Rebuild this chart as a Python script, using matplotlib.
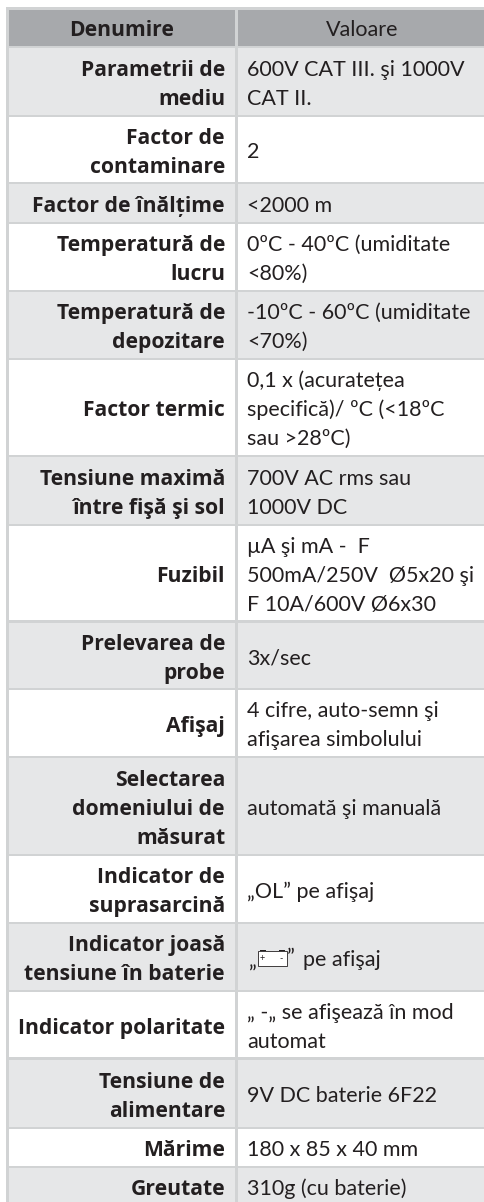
import matplotlib
matplotlib.use("Agg")
import matplotlib.pyplot as plt
from matplotlib.patches import Rectangle

headers = ["Denumire", "Valoare"]
labels = [
    ["Parametrii de", "mediu"], ["Factor de", "contaminare"], ["Factor de înălțime"],
    ["Temperatură de", "lucru"], ["Temperatură de", "depozitare"], ["Factor termic"],
    ["Tensiune maximă", "între fişă şi sol"], ["Fuzibil"], ["Prelevarea de", "probe"],
    ["Afişaj"], ["Selectarea", "domeniului de", "măsurat"], ["Indicator de", "suprasarcină"],
    ["Indicator joasă", "tensiune în baterie"], ["Indicator polaritate"],
    ["Tensiune de", "alimentare"], ["Mărime"], ["Greutate"],
]
values = [
    ["600V CAT III. şi 1000V", "CAT II."], ["2"], ["<2000 m"],
    ["0ºC - 40ºC (umiditate", "<80%)"], ["-10ºC - 60ºC (umiditate", "<70%)"],
    ["0,1 x (acuratețea", "specifică)/ ºC (<18ºC", "sau >28ºC)"],
    ["700V AC rms sau", "1000V DC"],
    ["µA şi mA -  F", "500mA/250V  Ø5x20 şi", "F 10A/600V Ø6x30"], ["3x/sec"],
    ["4 cifre, auto-semn şi", "afişarea simbolului"], ["automată şi manuală"],
    ["„OL” pe afişaj"], ["pe afişaj"], ["„ -„ se afişează în mod", "automat"],
    ["9V DC baterie 6F22"], ["180 x 85 x 40 mm"], ["310g (cu baterie)"],
]

# layout, in pixels of the 484x1202 canvas
W, H = 484, 1202
row_edges = [48, 117, 184, 224, 292, 360, 457, 526, 622.5, 690, 758, 856, 924, 992, 1059.5, 1129, 1168, 1207]
LINE = 29
GRID, HEAD, BAND, INK = "#D1D3D4", "#A7A9AC", "#E6E7E8", "#231F20"
FONT_R = ["Lato", "Noto Sans", "DejaVu Sans"]
FONT_B = ["Open Sans", "Noto Sans", "DejaVu Sans"]
FS, FSB = 15.5, 15.2

fig = plt.figure(figsize=(W / 100, H / 100), dpi=100, facecolor="white")
ax = fig.add_axes([0, 0, 1, 1])
ax.set_xlim(0, W)
ax.set_ylim(H, 0)
ax.axis("off")

def box(x0, y0, x1, y1, c, z=1):
    ax.add_patch(Rectangle((x0, y0), x1 - x0, y1 - y0, fc=c, ec="none", zorder=z))

box(6, 7, W, H, GRID, 0)
box(8.5, 9.5, 235, 46, HEAD)
box(237.5, 9.5, W, 46, HEAD)
ax.text(122, 36.5, headers[0], ha="center", va="baseline", fontsize=FSB, fontweight="bold", color=INK, family=FONT_B)
ax.text(362, 36.5, headers[1], ha="center", va="baseline", fontsize=FS, color=INK, family=FONT_R)

for i, (lab, val) in enumerate(zip(labels, values)):
    top, bot = row_edges[i], row_edges[i + 1] - 2.3
    c = BAND if i % 2 == 0 else "white"
    box(8.5, top, 235, bot, c)
    box(237.5, top, W, bot, c)
    mid = (top + bot) / 2 + 9
    for k, s in enumerate(lab):
        ax.text(225, mid + (k - (len(lab) - 1) / 2) * LINE, s, ha="right", va="baseline",
                fontsize=FSB, fontweight="bold", color=INK, family=FONT_B)
    for k, s in enumerate(val):
        x = 303 if s == "pe afişaj" else 247
        ax.text(x, mid + (k - (len(val) - 1) / 2) * LINE, s, ha="left", va="baseline",
                fontsize=FS, color=INK, family=FONT_R)

# battery symbol of the low-battery row
ax.text(248, 968, "„", ha="left", va="baseline", fontsize=FS, color=INK, family=FONT_R)
ax.add_patch(Rectangle((258, 951), 28.5, 14.5, fc="white", ec=INK, lw=0.6, zorder=3))
box(260, 949.5, 266, 951, INK, 3)
box(279, 949.5, 285, 951, INK, 3)
ax.text(262.5, 958.5, "+", ha="center", va="center", fontsize=6.5, color=INK, family=FONT_R, zorder=4)
ax.text(281.5, 958.5, "-", ha="center", va="center", fontsize=6.5, color=INK, family=FONT_R, zorder=4)
ax.text(287, 964, "”", ha="left", va="baseline", fontsize=FS, color=INK, family=FONT_R)

fig.savefig("out.png", dpi=100, facecolor="white")
